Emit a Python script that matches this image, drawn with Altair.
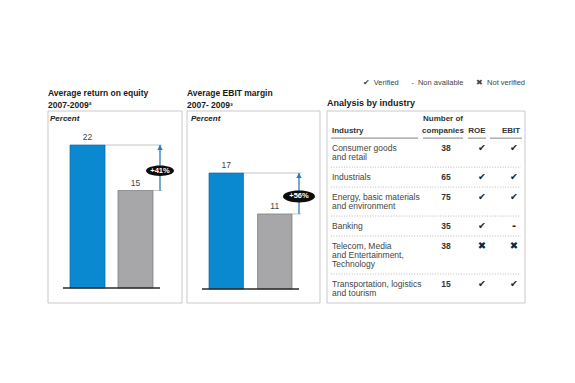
import altair as alt
import pandas as pd

# ---------------- data ----------------
roe_groups = ["Leaders", "Others"]
roe_values = [22, 15]
roe_delta = "+41%"
roe_title = ["Average return on equity", "2007-2009²"]

ebit_groups = ["Leaders", "Others"]
ebit_values = [17, 11]
ebit_delta = "+56%"
ebit_title = ["Average EBIT margin", "2007- 2009³"]

unit_label = "Percent"
table_title = "Analysis by industry"
header_labels = ["Industry", "Number of\ncompanies", "ROE", "EBIT"]
industries = [
    "Consumer goods\nand retail",
    "Industrials",
    "Energy, basic materials\nand environment",
    "Banking",
    "Telecom, Media\nand Entertainment,\nTechnology",
    "Transportation, logistics\nand tourism",
]
companies = [38, 65, 75, 35, 38, 15]
roe_status = ["verified", "verified", "verified", "verified", "not verified", "verified"]
ebit_status = ["verified", "verified", "verified", "non available", "not verified", "verified"]
legend_status = ["verified", "non available", "not verified"]
legend_labels = ["Verified", "Non available", "Not verified"]
status_symbol = {"verified": "✔", "non available": "-", "not verified": "✖"}

# ---------------- style ----------------
FONT = "Liberation Sans"
SYM_FONT = "DejaVu Sans"
BLUE = "#0a89d0"
BLUE_EDGE = "#0b6aa6"
GRAY = "#a7a7a9"
GRAY_EDGE = "#77777a"
ARROW = "#2b7db5"
BOX = "#c9c9c9"
TXT = "#444444"
NB = "\u00a0"

one = pd.DataFrame({"k": [0]})


def box(x0, x1, y0, y1):
    return alt.Chart(one).mark_rect(fill="white", stroke=BOX, strokeWidth=1).encode(
        x=alt.value(x0), x2=alt.value(x1), y=alt.value(y0), y2=alt.value(y1)
    )


def label(text, x, y, size=8.5, weight="bold", style="normal", align="left", color="#1a1a1a", font=FONT):
    return alt.Chart(one).mark_text(
        font=font, fontSize=size, fontWeight=weight, fontStyle=style, align=align,
        baseline="middle", color=color
    ).encode(x=alt.value(x), y=alt.value(y), text=alt.value(text))


ELLIPSE = "M-1,0A1,0.37,0,1,1,1,0A1,0.37,0,1,1,-1,0Z"
HEAD = "M0,0L1,1.8L-1,1.8Z"


def bar_panel(groups, values, delta, band_range, pad_inner, y_range, base_x, arrow_x, badge_w):
    df = pd.DataFrame({"group": groups, "value": values})
    yscale = alt.Scale(domain=[0, max(values)], range=y_range, nice=False, zero=True)
    xscale = alt.Scale(domain=groups, range=band_range, paddingInner=pad_inner, paddingOuter=0)
    x = alt.X("group:N", scale=xscale, axis=None)
    y = alt.Y("value:Q", scale=yscale, axis=None)
    base = alt.Chart(df)

    refs = base.mark_rule(color="#c4c4c4", strokeWidth=1).encode(
        x=alt.X("group:N", scale=xscale, axis=None, bandPosition=1),
        x2=alt.value(arrow_x + 2),
        y=y,
    )
    bars = base.mark_bar(strokeWidth=0.7).encode(
        x=x,
        y=y,
        color=alt.Color("group:N", scale=alt.Scale(domain=groups, range=[BLUE, GRAY]), legend=None),
        stroke=alt.Stroke("group:N", scale=alt.Scale(domain=groups, range=[BLUE_EDGE, GRAY_EDGE]), legend=None),
    )
    nums = base.mark_text(font=FONT, fontSize=8.5, color=TXT, dy=-8, baseline="middle").encode(
        x=x, y=y, text="value:Q"
    )
    baseline = alt.Chart(pd.DataFrame({"value": [0]})).mark_rule(color="#2a2a2a", strokeWidth=1.6).encode(
        x=alt.value(base_x[0]), x2=alt.value(base_x[1]), y=y
    )
    lo, hi = min(values), max(values)
    adf = pd.DataFrame({"lo": [lo], "hi": [hi], "mid": [(lo + hi) / 2], "delta": [delta]})
    arrow = alt.Chart(adf).mark_rule(color=ARROW, strokeWidth=1.3).encode(
        x=alt.value(arrow_x),
        y=alt.Y("lo:Q", scale=yscale, axis=None),
        y2="hi:Q",
    )
    head = alt.Chart(adf).mark_point(shape=HEAD, filled=True, color=ARROW, opacity=1, size=30).encode(
        x=alt.value(arrow_x), y=alt.Y("hi:Q", scale=yscale, axis=None)
    )
    badge = alt.Chart(adf).mark_point(
        shape=ELLIPSE, filled=True, color="#0d0d0d", opacity=1, size=badge_w * badge_w, yOffset=3
    ).encode(x=alt.value(arrow_x), y=alt.Y("mid:Q", scale=yscale, axis=None))
    btxt = alt.Chart(adf).mark_text(
        font=FONT, fontSize=7.5, fontWeight="bold", color="white", baseline="middle", dy=3
    ).encode(x=alt.value(arrow_x), y=alt.Y("mid:Q", scale=yscale, axis=None), text="delta:N")
    return alt.layer(refs, bars, nums, baseline, arrow, head, badge, btxt)


panel1 = bar_panel(roe_groups, roe_values, roe_delta, [62, 145], 0.27, [280, 137], [55, 152], 152, 28)
panel2 = bar_panel(ebit_groups, ebit_values, ebit_delta, [201, 284], 0.29, [281, 165], [194, 291], 291, 32)

# ---------------- table ----------------
PAD = 0.6
line_rows, first_rows, tops = [], [], []
top = 0.0
for name in industries:
    parts = name.split("\n")
    tops.append(top)
    first = top + PAD + 0.5
    first_rows.append(first)
    for i, p in enumerate(parts):
        line_rows.append({"ypos": first + i, "text": p})
    top += len(parts) + 2 * PAD
total = top

tscale = alt.Scale(domain=[-3, total], range=[103, 295], nice=False, zero=False)
ty = alt.Y("ypos:Q", scale=tscale, axis=None)

names = alt.Chart(pd.DataFrame(line_rows)).mark_text(
    font=FONT, fontSize=8.5, color=TXT, align="left", baseline="middle"
).encode(x=alt.value(324), y=ty, text="text:N")

rows_df = pd.DataFrame({
    "ypos": first_rows,
    "n": companies,
    "roe": [status_symbol[s] for s in roe_status],
    "ebit": [status_symbol[s] for s in ebit_status],
})
sym_size = alt.Scale(domain=["✔", "-", "✖"], range=[9.5, 10, 7.5])
counts = alt.Chart(rows_df).mark_text(
    font=FONT, fontSize=8.5, fontWeight="bold", color="#333", align="center", baseline="middle"
).encode(x=alt.value(438), y=ty, text="n:Q")
roe_marks = alt.Chart(rows_df).mark_text(
    font=SYM_FONT, color="#222", align="center", baseline="middle", fontWeight="bold"
).encode(x=alt.value(474), y=ty, text="roe:N", size=alt.Size("roe:N", scale=sym_size, legend=None))
ebit_marks = alt.Chart(rows_df).mark_text(
    font=SYM_FONT, color="#222", align="center", baseline="middle", fontWeight="bold"
).encode(x=alt.value(506), y=ty, text="ebit:N", size=alt.Size("ebit:N", scale=sym_size, legend=None))

seps = alt.Chart(pd.DataFrame({"ypos": tops[1:]})).mark_rule(
    color="#a9a9a9", strokeWidth=0.8, strokeDash=[1, 1.6]
).encode(x=alt.value(323), x2=alt.value(513), y=ty)

# header: column text, anchor x, alignment, underline span
header_cols = [
    (header_labels[0], 324, "left", (323, 410)),
    (header_labels[1], 435, "center", (415, 455)),
    (header_labels[2], 469, "center", (460, 478)),
    (header_labels[3], 503, "center", (482, 514)),
]
header_layers = []
for text, hx, al, (u0, u1) in header_cols:
    parts = text.split("\n")
    hdf = pd.DataFrame({
        "ypos": [-0.77 - 1.32 * (len(parts) - 1 - i) for i in range(len(parts))],
        "text": parts,
    })
    header_layers.append(
        alt.Chart(hdf).mark_text(
            font=FONT, fontSize=8, fontWeight="bold", color="#333", align=al, baseline="middle"
        ).encode(x=alt.value(hx), y=ty, text="text:N")
    )
    header_layers.append(
        alt.Chart(pd.DataFrame({"ypos": [0]})).mark_rule(color="#9a9a9a", strokeWidth=1.2).encode(
            x=alt.value(u0), x2=alt.value(u1), y=ty
        )
    )

table = alt.layer(seps, names, counts, roe_marks, ebit_marks, *header_layers)

legend_text = (NB * 6).join(f"{status_symbol[s]}{NB * 2}{l}" for s, l in zip(legend_status, legend_labels))

chart = alt.layer(
    box(40, 174, 103, 295),
    box(179, 312, 103, 295),
    box(319, 517, 103, 295),
    label(roe_title[0], 40, 85),
    label(roe_title[1], 40, 97),
    label(ebit_title[0], 179, 85),
    label(ebit_title[1], 179, 97),
    label(table_title, 319, 95, size=9),
    label(unit_label, 42, 111, size=8, style="italic", color="#222"),
    label(unit_label, 183, 111, size=8, style="italic", color="#222"),
    label(legend_text, 517, 75, size=7.5, weight="normal", align="right", color=TXT),
    panel1,
    panel2,
    table,
).resolve_scale(x="independent", y="independent", color="independent", stroke="independent", size="independent").properties(
    width=559,
    height=367,
    autosize=alt.AutoSizeParams(type="none"),
    padding=0,
).configure_view(stroke=None)

chart.save("out.html", embed_options={"renderer": "svg", "actions": False})
